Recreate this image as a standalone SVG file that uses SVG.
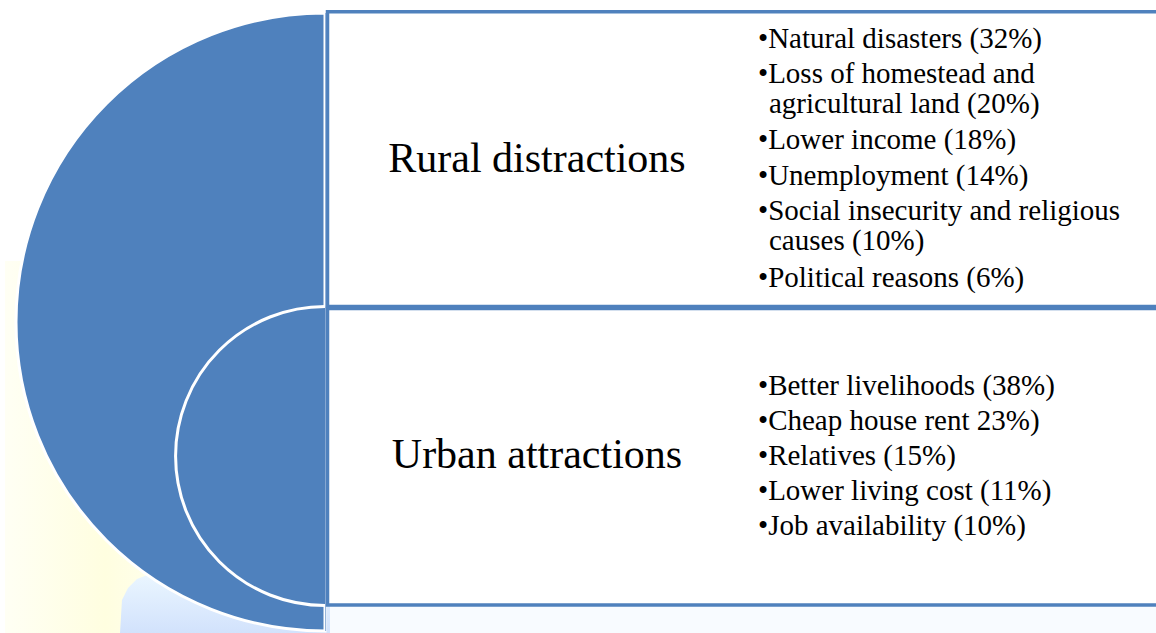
<svg xmlns="http://www.w3.org/2000/svg" width="1156" height="633" viewBox="0 0 1156 633">
  <defs>
    <linearGradient id="bgYellow" x1="0" y1="0" x2="1" y2="0">
      <stop offset="0" stop-color="#fffff4"/>
      <stop offset="0.5" stop-color="#fffee0"/>
      <stop offset="1" stop-color="#fffff6"/>
    </linearGradient>
    <linearGradient id="bgBlue" x1="0" y1="0" x2="0" y2="1">
      <stop offset="0" stop-color="#eaf6ff"/>
      <stop offset="1" stop-color="#d2e2fc"/>
    </linearGradient>
    <style>
      .ring { fill: #4f81bd; stroke: #ffffff; stroke-width: 3; }
      .panel { fill: #ffffff; fill-opacity: 0.96; stroke: #4f81bd; stroke-width: 3.5; }
    </style>
  </defs>

  <!-- page background -->
  <rect x="0" y="0" width="1156" height="633" fill="#ffffff"/>
  <rect x="5" y="261" width="200" height="372" fill="url(#bgYellow)"/>
  <polygon points="120,633 122,600 128,588 137,579 150,574 330,574 330,633" fill="url(#bgBlue)"/>
  <rect x="330" y="607" width="826" height="26" fill="#f8fbff"/>

  <!-- outer half disc -->
  <g id="outer-disc">
    <path class="ring" d="M 325 13 A 309 309 0 0 0 325 631 Z"/>
  </g>

  <!-- inner half disc -->
  <g id="inner-disc">
    <path class="ring" d="M 325 306.5 A 149.5 149.5 0 0 0 325 605.5"/>
  </g>

  <!-- top panel: rural -->
  <g id="rural">
    <rect class="panel" x="327.5" y="11.75" width="840" height="294.75"/>
    <line x1="325.6" y1="13" x2="325.6" y2="631" stroke="#8eaed6" stroke-width="1"/>
    <text x="537" y="172" text-anchor="middle" style="font-family:'Liberation Serif','Times New Roman',serif;font-size:42px">Rural distractions</text>
    <g style="font-family:'Liberation Serif','Times New Roman',serif;font-size:29px">
      <text x="758" y="48">•Natural disasters (32%)</text>
      <text x="758" y="83">•Loss of homestead and</text>
      <text x="769" y="113">agricultural land (20%)</text>
      <text x="758" y="149">•Lower income (18%)</text>
      <text x="758" y="185">•Unemployment (14%)</text>
      <text x="758" y="220">•Social insecurity and religious</text>
      <text x="769" y="250">causes (10%)</text>
      <text x="758" y="287">•Political reasons (6%)</text>
    </g>
  </g>

  <!-- bottom panel: urban -->
  <g id="urban">
    <rect class="panel" x="327.5" y="308.5" width="840" height="296.5"/>
    <text x="537" y="468" text-anchor="middle" style="font-family:'Liberation Serif','Times New Roman',serif;font-size:42px">Urban attractions</text>
    <g style="font-family:'Liberation Serif','Times New Roman',serif;font-size:29px">
      <text x="758" y="395">•Better livelihoods (38%)</text>
      <text x="758" y="430">•Cheap house rent 23%)</text>
      <text x="758" y="465">•Relatives (15%)</text>
      <text x="758" y="500">•Lower living cost (11%)</text>
      <text x="758" y="535">•Job availability (10%)</text>
    </g>
  </g>

  <!-- no connectors in this layout -->
  <g id="connectors"/>
</svg>
